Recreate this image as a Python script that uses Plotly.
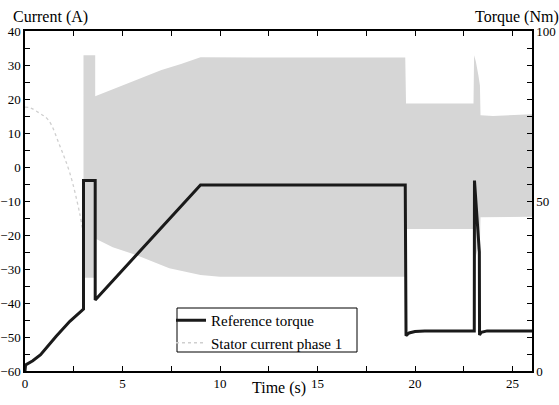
import plotly.graph_objects as go

# ---- data ----
# Reference torque (Nm), plotted on the right axis
t_torque = [0.0, 0.03, 0.4, 0.8, 1.6, 2.3, 3.0, 3.0, 3.6, 3.6, 9.0, 19.5, 19.54, 19.7, 20.0, 20.5,
            23.04, 23.05, 23.3, 23.31, 23.4, 23.7, 26.0]
torque_nm = [0.0, 1.8, 3.0, 4.8, 10.2, 14.6, 18.2, 56.0, 56.0, 20.9, 54.7, 54.7, 10.4, 11.2, 11.6, 11.8,
             11.8, 56.0, 35.0, 10.6, 11.4, 11.8, 11.8]

# Stator current phase 1 (A): envelope of the dense oscillation
t_up = [3.0, 3.6, 3.6, 4.5, 5.7, 7.0, 8.0, 9.0, 12.0, 15.0, 19.5, 19.54, 21.0, 23.0, 23.03, 23.12,
        23.25, 23.33, 23.36, 24.0, 26.0]
i_up = [32.9, 32.9, 20.8, 22.8, 25.6, 28.5, 30.3, 32.3, 32.2, 32.2, 32.2, 18.7, 18.7, 18.7, 32.9, 31.0,
        27.0, 24.0, 15.2, 15.0, 15.5]
t_lo = [3.0, 3.6, 3.6, 4.5, 5.7, 7.4, 9.0, 10.0, 19.5, 19.54, 23.0, 23.03, 23.33, 23.36, 26.0]
i_lo = [-32.6, -32.6, -21.0, -23.6, -25.9, -29.8, -31.8, -32.3, -32.3, -18.2, -18.2, -28.0, -22.0,
        -14.8, -14.6]
# slow start-up part of the current (before the dense oscillation)
t_start = [0.0, 0.26, 0.7, 1.2, 1.8, 2.3, 2.8, 3.0]
i_start = [17.6, 17.4, 16.0, 13.8, 6.0, -1.8, -13.5, -20.0]

x_ticks = [0, 5, 10, 15, 20, 25]
y_ticks = [-60, -50, -40, -30, -20, -10, 0, 10, 20, 30, 40]
y2_ticks = [0, 50, 100]

FONT = "Liberation Serif, 'Times New Roman', Times, 'DejaVu Serif', serif"
GRAY = "#d6d6d6"

fig = go.Figure()
fig.add_trace(go.Scatter(
    x=t_up + t_lo[::-1], y=i_up + i_lo[::-1], fill="toself", fillcolor=GRAY,
    line=dict(width=0, color=GRAY), mode="lines", showlegend=False, hoverinfo="skip"))
fig.add_trace(go.Scatter(
    x=t_start, y=i_start, mode="lines", name="Stator current phase 1",
    line=dict(color="#cfcfcf", width=1.3, dash="dot", shape="spline"), legendrank=2))
fig.add_trace(go.Scatter(
    x=t_torque, y=torque_nm, mode="lines", name="Reference torque", yaxis="y2",
    line=dict(color="#1a1a1a", width=3), legendrank=1))

axis_common = dict(showgrid=False, zeroline=False, showline=True, linecolor="black", linewidth=1.5,
                   ticks="inside", ticklen=5, tickwidth=1, tickcolor="black", automargin=False,
                   tickfont=dict(family=FONT, size=13, color="black"))

fig.update_layout(
    width=559, height=405,
    margin=dict(l=25, r=27, t=31, b=34),
    paper_bgcolor="white", plot_bgcolor="white",
    font=dict(family=FONT, color="black"),
    xaxis=dict(range=[0, 26], tickvals=x_ticks, mirror="ticks",
               minor=dict(dtick=2.5, ticks="inside", ticklen=5, tickwidth=1, tickcolor="black"),
               **axis_common),
    yaxis=dict(range=[-60, 40], tickvals=y_ticks, mirror=False,
               minor=dict(dtick=5, ticks="inside", ticklen=5, tickwidth=1, tickcolor="black"),
               **axis_common),
    yaxis2=dict(range=[0, 100], tickvals=y2_ticks, overlaying="y", side="right",
                minor=dict(dtick=5, ticks="inside", ticklen=5, tickwidth=1, tickcolor="black"),
                **axis_common),
    legend=dict(x=(171 - 25) / 507, y=(371 - 304) / 340, xanchor="left", yanchor="top",
                bgcolor="rgba(0,0,0,0)", borderwidth=0,
                font=dict(family=FONT, size=15, color="black"),
                itemwidth=30, tracegroupgap=0),
    shapes=[dict(type="rect", xref="paper", yref="paper",
                 x0=(177 - 25) / 507, x1=(357 - 25) / 507,
                 y0=(371 - 352) / 340, y1=(371 - 308) / 340,
                 fillcolor="white", line=dict(color="black", width=1), layer="above")],
    annotations=[
        dict(text="Current (A)", xref="paper", yref="paper", x=0, y=1, xanchor="left",
             yanchor="middle", xshift=-14, yshift=14, showarrow=False,
             font=dict(family=FONT, size=16, color="black")),
        dict(text="Torque (Nm)", xref="paper", yref="paper", x=1, y=1, xanchor="right",
             yanchor="middle", xshift=29, yshift=14, showarrow=False,
             font=dict(family=FONT, size=16, color="black")),
        dict(text="Time (s)", xref="paper", yref="paper", x=0.5, y=0, xanchor="center",
             yanchor="middle", yshift=-17, showarrow=False,
             font=dict(family=FONT, size=16, color="black")),
    ],
)

fig.write_html("out.html", config={"displayModeBar": False},
               post_script="document.body.style.margin='0';")
